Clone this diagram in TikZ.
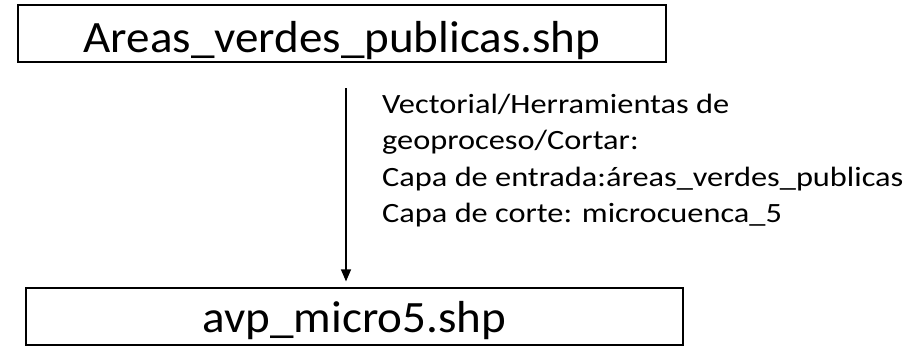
\documentclass[tikz,border=0pt]{standalone}
\usepackage{fontspec}
\setmainfont{Carlito}
\newfontfamily\steplabelfont[FakeStretch=1.16]{Carlito}
\newfontfamily\fileboxfont[FakeStretch=1.05]{Carlito}
\usetikzlibrary{positioning,arrows.meta}

\begin{document}
\begin{tikzpicture}[x=1bp,y=-1bp,
    filebox/.style={draw,line width=1.2bp,minimum height=57bp,inner sep=0pt,font=\fileboxfont\fontsize{45}{50}\selectfont},
    steptext/.style={anchor=north west,align=left,inner sep=0pt,font=\steplabelfont\fontsize{28}{36.5}\selectfont}]
        \useasboundingbox (0,0) rectangle (915,347);
        % Files
        \node[filebox,minimum width=648bp,text height=45bp,text depth=8bp] (shp) at (342,33.5) {Areas\_verdes\_publicas.shp};
        \node[filebox,minimum width=657bp,text height=40bp,text depth=9bp] (out) at (354.5,316.5) {avp\_micro5.shp};
        % Clip step
        \coordinate (cut) at (346,88);
        \draw[line width=1.2bp,-{Triangle[length=12bp,width=10bp]},shorten >=6bp] (cut) -- (cut |- out.north);
        \node[steptext] (clip) at (382,94) {Vectorial/Herramientas de\\geoproceso/Cortar:\\Capa de entrada:áreas\_verdes\_publicas\\Capa de corte: microcuenca\_5};
    \end{tikzpicture}
\end{document}
